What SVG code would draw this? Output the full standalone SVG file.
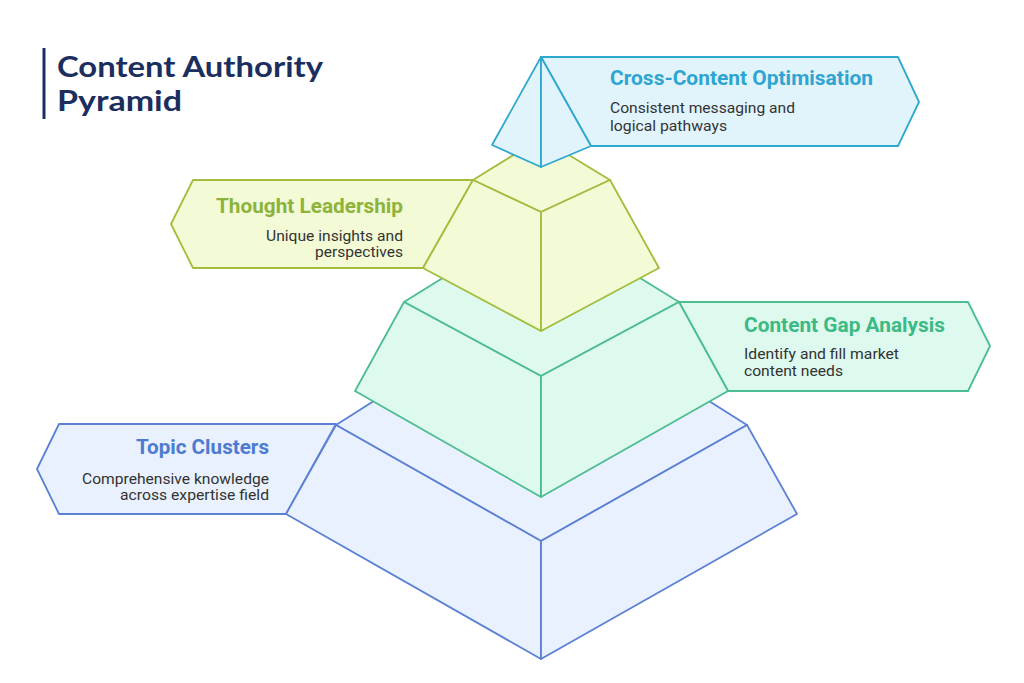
<svg xmlns="http://www.w3.org/2000/svg" width="1024" height="683" viewBox="0 0 1024 683">
<style>
.cy{fill:#e1f4fc;stroke:#2fa8cf;stroke-width:1.8;stroke-linejoin:round}
.ye{fill:#f3fad6;stroke:#a2bd3e;stroke-width:1.8;stroke-linejoin:round}
.gr{fill:#def9ee;stroke:#4cbd90;stroke-width:1.8;stroke-linejoin:round}
.bl{fill:#e8f1fd;stroke:#5c80d4;stroke-width:1.8;stroke-linejoin:round}
.ttl{font-family:Roboto,"Liberation Sans",sans-serif;font-weight:700;font-size:20px}
.body{font-family:Roboto,"Liberation Sans",sans-serif;font-size:15px;fill:#333333}
.main{font-family:Lato,"Liberation Sans",sans-serif;font-weight:700;font-size:28px;fill:#1b2e5e}
</style>
<rect width="1024" height="683" fill="#ffffff"/>
<g id="title">
<rect x="42.5" y="48" width="3" height="71" fill="#1b2e5e"/>
<text class="main" x="57" y="77" textLength="266" lengthAdjust="spacingAndGlyphs">Content Authority</text>
<text class="main" x="57" y="111" textLength="125" lengthAdjust="spacingAndGlyphs">Pyramid</text>
</g>
<g id="topic-clusters">
<polygon class="bl" points="59,424 336,424 286,514 59,514 37,469"/>
<polygon class="bl" points="336,425 541,295 747,425 541,541"/>
<polygon class="bl" points="336,425 541,541 541,659 286,514"/>
<polygon class="bl" points="541,541 747,425 797,514 541,659"/>
<text class="ttl" x="269" y="454" text-anchor="end" fill="#4d7bd1" textLength="133" lengthAdjust="spacingAndGlyphs">Topic Clusters</text>
<text class="body" x="269" y="484" text-anchor="end" textLength="187" lengthAdjust="spacingAndGlyphs">Comprehensive knowledge</text>
<text class="body" x="269" y="500" text-anchor="end" textLength="149" lengthAdjust="spacingAndGlyphs">across expertise field</text>
</g>
<g id="content-gap-analysis">
<polygon class="gr" points="679,302 968,302 990,346 968,391 728,391"/>
<polygon class="gr" points="404,302 541,217 679,302 541,376"/>
<polygon class="gr" points="404,302 541,376 541,497 355,391"/>
<polygon class="gr" points="541,376 679,302 728,391 541,497"/>
<text class="ttl" x="744" y="332" fill="#3cba85" textLength="201" lengthAdjust="spacingAndGlyphs">Content Gap Analysis</text>
<text class="body" x="744" y="359" textLength="155" lengthAdjust="spacingAndGlyphs">Identify and fill market</text>
<text class="body" x="744" y="376" textLength="99" lengthAdjust="spacingAndGlyphs">content needs</text>
</g>
<g id="thought-leadership">
<polygon class="ye" points="193,180 473,180 423,268 193,268 171,224"/>
<polygon class="ye" points="473,180 541,138 610,180 541,212"/>
<polygon class="ye" points="473,180 541,212 541,331 423,268"/>
<polygon class="ye" points="541,212 610,180 659,268 541,331"/>
<text class="ttl" x="403" y="213" text-anchor="end" fill="#8db33a" textLength="187" lengthAdjust="spacingAndGlyphs">Thought Leadership</text>
<text class="body" x="403" y="241" text-anchor="end" textLength="137" lengthAdjust="spacingAndGlyphs">Unique insights and</text>
<text class="body" x="403" y="257" text-anchor="end" textLength="88" lengthAdjust="spacingAndGlyphs">perspectives</text>
</g>
<g id="cross-content-optimisation">
<polygon class="cy" points="541,57 898,57 919,102 898,146 591,146"/>
<polygon class="cy" points="541,57 541,167 492,145"/>
<polygon class="cy" points="541,57 591,146 541,167"/>
<text class="ttl" x="610" y="85" fill="#2ea5d0" textLength="263" lengthAdjust="spacingAndGlyphs">Cross-Content Optimisation</text>
<text class="body" x="610" y="113" textLength="185" lengthAdjust="spacingAndGlyphs">Consistent messaging and</text>
<text class="body" x="610" y="131" textLength="117" lengthAdjust="spacingAndGlyphs">logical pathways</text>
</g>
<g id="connectors"></g>
</svg>
